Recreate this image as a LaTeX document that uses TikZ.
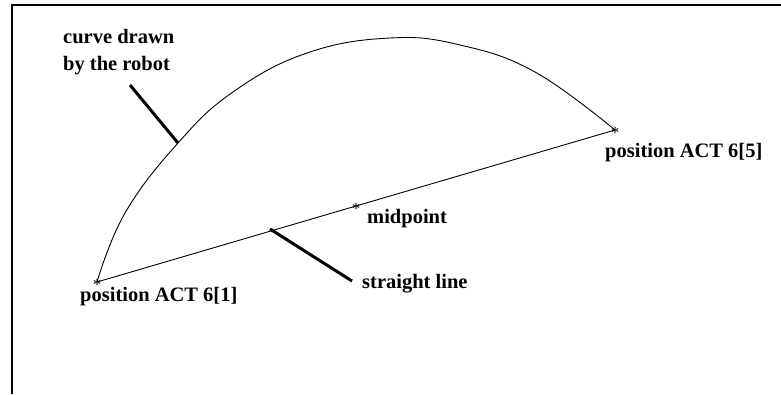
\documentclass[tikz,border=0pt]{standalone}
\usepackage{fontspec}
\setmainfont{Liberation Serif}
\usepackage{tikz}
\usetikzlibrary{positioning,calc}

\begin{document}
\begin{tikzpicture}[
  x=1pt,y=-1pt,
  lab/.style={font=\bfseries\fontsize{20.5}{27}\selectfont,inner sep=0pt,align=left},
  astx/.style={font=\fontsize{17}{17}\selectfont,inner sep=0pt,yshift=-3pt},
  leader/.style={line width=3pt},
  seg/.style={line width=0.9pt}]
  \useasboundingbox (0,0) rectangle (781,394);
  \draw[line width=2.5pt] (781,5)--(12,5)--(12,394);
  \coordinate (p1) at (97,282);
  \coordinate (p5) at (615,130);
  \coordinate (mid) at ($(p1)!0.5!(p5)$);
  \node[astx] (s1) at (p1) {*};
  \node[astx] (s5) at (p5) {*};
  \node[astx] (sm) at (mid) {*};
  \node[lab,anchor=base west] (l1) at (80,301) {position ACT 6[1]};
  \node[lab,anchor=base west] (l5) at (605,157) {position ACT 6[5]};
  \node[lab,anchor=base west] (lm) at (367,223) {midpoint};
  \node[lab,anchor=base west] (ls) at (362,288) {straight line};
  \node[lab,anchor=north west] (lc) at (63,29) {curve drawn\\by the robot};
  \draw[seg] (p1)--(p5);
  \draw[seg] plot[smooth,tension=0.7] coordinates {(p1) (125,213)
    (178,143) (233,92) (307,53) (390,38) (460,45) (535,72) (p5)};
  \coordinate (c-on) at (178,143);
  \coordinate (c-st) at (130,85);
  \coordinate (s-on) at (270,229);
  \coordinate (s-en) at (352,281);
  \draw[leader] (c-st)--(c-on);
  \draw[leader] (s-on)--(s-en);
\end{tikzpicture}
\end{document}
